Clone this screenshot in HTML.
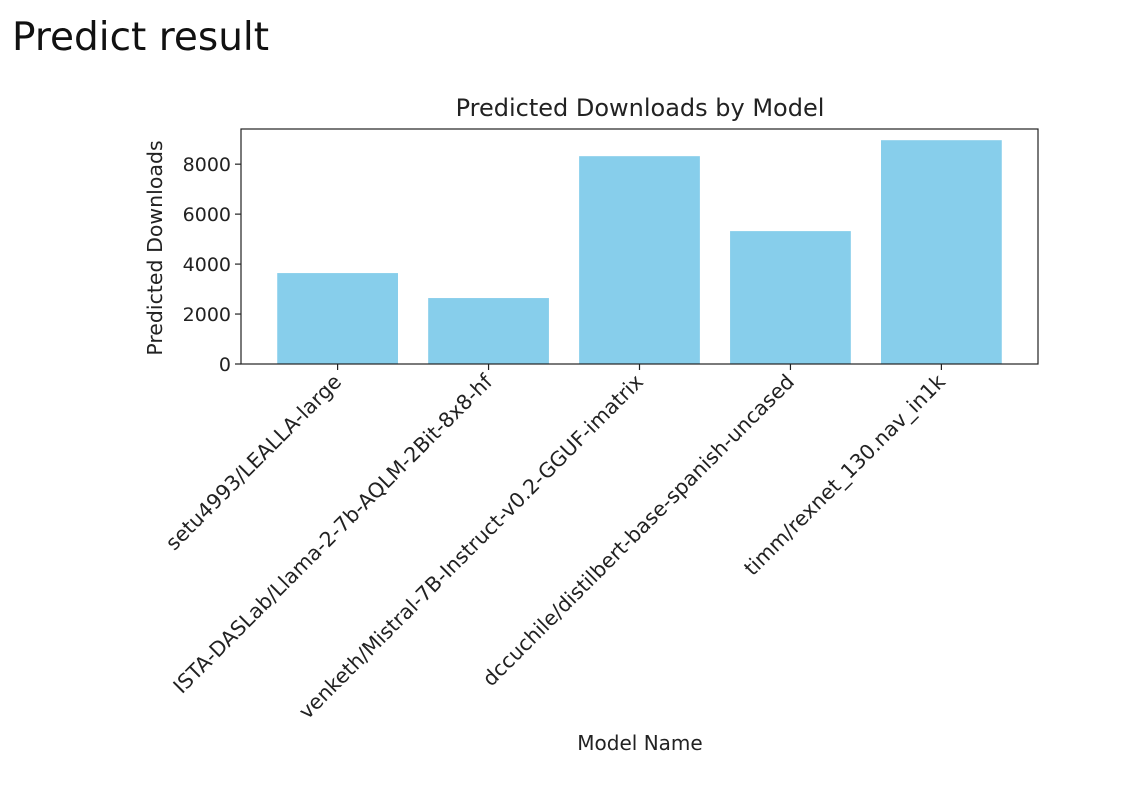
<!DOCTYPE html>
<html><head><meta charset="utf-8"><style>
body{margin:0;background:#fff;width:1141px;height:780px;overflow:hidden}
svg text{font-family:"DejaVu Sans","Liberation Sans",sans-serif;fill:#222}
</style></head><body>
<svg width="1141" height="780">
<text x="12" y="50" style="font-family:'Comic Sans MS','DejaVu Sans',sans-serif;font-size:39px;fill:#111">Predict result</text>
<text x="640" y="116" text-anchor="middle" font-size="24">Predicted Downloads by Model</text>
<g id="plot"></g>
<text x="640" y="750" text-anchor="middle" font-size="20">Model Name</text>
<text transform="translate(162,248) rotate(-90)" text-anchor="middle" font-size="20.5">Predicted Downloads</text>
</svg>
<script>
const categories=["setu4993/LEALLA-large","ISTA-DASLab/Llama-2-7b-AQLM-2Bit-8x8-hf","venketh/Mistral-7B-Instruct-v0.2-GGUF-imatrix","dccuchile/distilbert-base-spanish-uncased","timm/rexnet_130.nav_in1k"];
const values=[3640,2640,8320,5320,8960];
const yTicks=[0,2000,4000,6000,8000];
const L=241,R=1038,T=129,B=364;
const ns="http://www.w3.org/2000/svg";
const g=document.getElementById('plot');
const yMax=Math.max(...values)*1.05;
const y=v=>B-(v/yMax)*(B-T);
const n=categories.length;
const x0=-0.64,x1=n-1+0.64;
const x=i=>L+(i-x0)/(x1-x0)*(R-L);
const bw=0.8*(R-L)/(x1-x0);
function mk(t,a){const e=document.createElementNS(ns,t);for(const k in a)e.setAttribute(k,a[k]);g.appendChild(e);return e;}
values.forEach((v,i)=>{
 const r=mk('rect',{x:x(i)-bw/2,y:y(v),width:bw,height:B-y(v),fill:'#87ceeb'});
 
 
 const tk=mk('line',{x1:x(i),x2:x(i),y1:B,y2:B+6,stroke:'#222','stroke-width':1.2});
 
 
 const t=mk('text',{'text-anchor':'end','font-size':20.5,transform:`translate(${x(i)+5},${B+19}) rotate(-45)`});
 t.textContent=categories[i];
 
 
});
yTicks.forEach(v=>{
 const tk=mk('line',{x1:L-6,x2:L,y1:y(v),y2:y(v),stroke:'#222','stroke-width':1.2});
 
 
 const t=mk('text',{x:L-10,y:y(v)+7,'text-anchor':'end','font-size':19});
 t.textContent=v;
 
 
});
const f=mk('rect',{x:L,y:T,width:R-L,height:B-T,fill:'none',stroke:'#222','stroke-width':1.2});


</script>
</body></html>
